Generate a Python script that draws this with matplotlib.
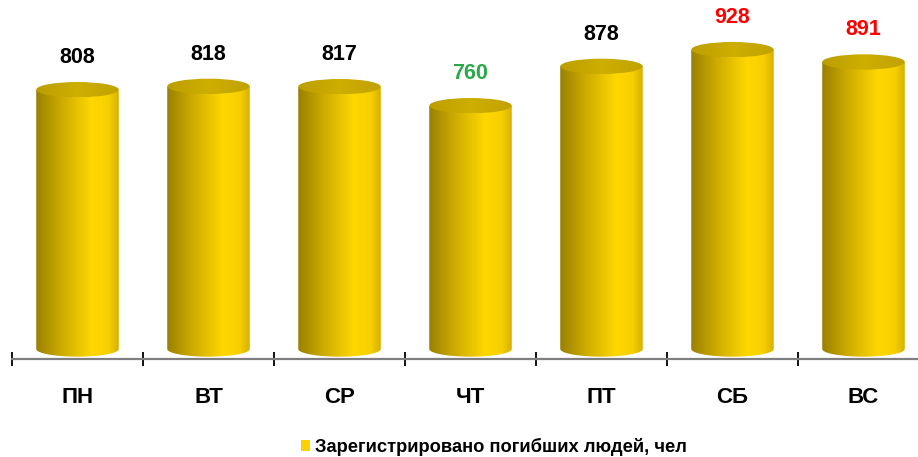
import numpy as np
import matplotlib
matplotlib.use("Agg")
import matplotlib.pyplot as plt
from matplotlib.colors import LinearSegmentedColormap
from matplotlib.patches import Ellipse, PathPatch, Patch
from matplotlib.path import Path

plt.rcParams['font.family'] = ['Liberation Sans', 'DejaVu Sans']

# data
days = ['ПН', 'ВТ', 'СР', 'ЧТ', 'ПТ', 'СБ', 'ВС']
deaths = [808, 818, 817, 760, 878, 928, 891]
label_colors = ['black', 'black', 'black', '#2BA84A', 'black', '#FF0000', '#FF0000']
legend_label = 'Зарегистрировано погибших людей, чел'

# cylinder look
BAR_W = 0.63
RY = 23          # half height of the ellipses, data units
BASE = 30        # centre of bottom ellipse
body_cmap = LinearSegmentedColormap.from_list('body', [
    (0.0, '#9A8000'), (0.3, '#CCAA00'), (0.68, '#FFD800'),
    (0.88, '#F6CF00'), (1.0, '#D6B000')])
top_cmap = LinearSegmentedColormap.from_list('top', [
    (0.0, '#BC9E00'), (0.5, '#CDAE00'), (1.0, '#C2A200')])
grad = np.linspace(0, 1, 256).reshape(1, -1)

fig = plt.figure(figsize=(9.18, 4.57), dpi=100)
ax = fig.add_axes([12 / 918, 98 / 457, 917 / 918, 359 / 457])

for i, val in enumerate(deaths):
    x0, x1 = i - BAR_W / 2, i + BAR_W / 2
    # body outline: straight sides + lower half of base ellipse
    t = np.linspace(np.pi, 2 * np.pi, 60)
    ex = i + BAR_W / 2 * np.cos(t)
    ey = BASE + RY * np.sin(t)
    verts = [(x0, val)] + list(zip(ex, ey)) + [(x1, val), (x0, val)]
    body = PathPatch(Path(verts, closed=True), facecolor='none', edgecolor='none')
    ax.add_patch(body)
    im = ax.imshow(grad, cmap=body_cmap, aspect='auto', interpolation='bilinear',
                   extent=[x0, x1, BASE - RY, val], zorder=2)
    im.set_clip_path(body)

    top = Ellipse((i, val), BAR_W, 2 * RY, facecolor='none', edgecolor='none')
    ax.add_patch(top)
    im2 = ax.imshow(grad, cmap=top_cmap, aspect='auto', interpolation='bilinear',
                    extent=[x0, x1, val - RY, val + RY], zorder=3)
    im2.set_clip_path(top)

    ax.annotate(str(val), (i, val), xytext=(0, 25), textcoords='offset points',
                ha='center', va='center_baseline', fontsize=15.5, fontweight='bold',
                color=label_colors[i])

ax.set_ylim(0, 1077)
ax.set_xlim(-0.5, len(days) - 0.5)

for s in ['top', 'left', 'right']:
    ax.spines[s].set_visible(False)
ax.spines['bottom'].set_color('#7F7F7F')
ax.spines['bottom'].set_linewidth(1.6)
ax.set_yticks([])

ax.set_xticks(range(len(days)))
ax.set_xticklabels(days, fontsize=16, fontweight='bold')
ax.tick_params(axis='x', which='major', length=0, pad=20)
ax.set_xticks(np.arange(-0.5, len(days), 1.0), minor=True)
ax.tick_params(axis='x', which='minor', direction='inout', length=10.5,
               width=1.3, color='black')

handle = Patch(facecolor='#FFD000', edgecolor='none')
fig.legend([handle], [legend_label], loc='center', bbox_to_anchor=(0.538, 0.022),
           frameon=False, prop={'size': 13.2, 'weight': 'bold'},
           handlelength=0.5, handleheight=0.6, handletextpad=0.3)

fig.savefig('out.png', dpi=100)
